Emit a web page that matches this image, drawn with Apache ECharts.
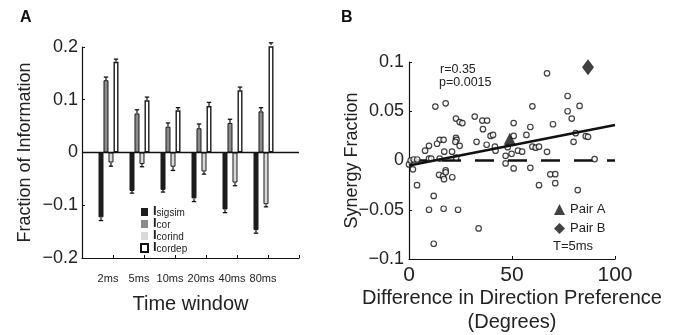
<!DOCTYPE html>
<html><head><meta charset="utf-8">
<script src="https://cdn.jsdelivr.net/npm/echarts@6/dist/echarts.min.js"></script>
<style>html,body{margin:0;padding:0;background:#fff}#c{width:676px;height:335px}</style>
</head><body><div id="c"></div>
<script>
// ---------- Panel A data ----------
const timeLabels = ['2ms', '5ms', '10ms', '20ms', '40ms', '80ms'];
const sigsim    = [-0.123, -0.073, -0.071, -0.087, -0.108, -0.147];
const cor       = [0.137, 0.074, 0.049, 0.046, 0.056, 0.078];
const corind    = [-0.019, -0.022, -0.027, -0.036, -0.057, -0.098];
const cordep    = [0.172, 0.099, 0.080, 0.088, 0.118, 0.204];
const sigsimErr = [0.006, 0.004, 0.004, 0.006, 0.006, 0.006];
const corErr    = [0.006, 0.007, 0.007, 0.008, 0.007, 0.007];
const corindErr = [0.007, 0.005, 0.007, 0.005, 0.006, 0.005];
const cordepErr = [0.005, 0.006, 0.005, 0.007, 0.006, 0.004];
const yTicksA   = ['\u22120.2', '\u22120.1', '0', '0.1', '0.2'];
const legendSubs = {sigsim: 'sigsim', cor: 'cor', corind: 'corind', cordep: 'cordep'};

// ---------- Panel B data ----------
const diffDeg = [0, 0.8, 1.9, 2.3, 4, 3.9,
  12.8, 17.8, 22.8, 24.6, 25.9, 31.9, 35.6, 37.9, 32.8, 35.9, 39.6, 40.8, 37.7, 41.7, 42,
  22.8, 23.1, 22.5, 24.6, 14.9, 16.8, 13.6, 9.7, 7.8, 17.1, 20.9, 9.7, 10.8, 14.9, 22.9,
  14.6, 16.5, 17.8, 17.8, 17, 21, 12, 9.7, 16.8, 23.8, 12, 33.8,
  46.9, 46.9, 47.9, 49.8, 50.8, 50.8, 50.8, 52.9, 54.9, 57, 58.9, 58.9, 59.9, 59.9, 61.5, 63.1, 63.1,
  67, 67, 69.9, 68.6, 71, 71, 77, 77, 79, 79.9, 80.9, 82.8, 81.9, 85.8, 86.9, 90.1];
const synergy = [-0.004, 0.0, -0.009, 0.001, 0.001, -0.025,
  0.0547, 0.058, 0.0426, 0.039, 0.038, 0.0446, 0.0405, 0.0405, 0.019, 0.0318, 0.025, 0.026, 0.016, 0.014, 0.010,
  0.023, 0.021, 0.019, 0.0149, 0.021, 0.021, 0.017, 0.0149, 0.010, 0.009, 0.009, 0.002, 0.002, 0.002, 0.003,
  -0.0145, -0.016, -0.010, -0.012, -0.019, -0.017, -0.036, -0.050, -0.049, -0.050, -0.0845, -0.069,
  0.0047, -0.003, 0.0135, 0.0068, 0.025, 0.038, -0.008, 0.010, 0.009, 0.026, 0.034, -0.0074, 0.055, 0.014, 0.013, 0.014, -0.025,
  0.0088, 0.0885, 0.0368, -0.014, -0.0139, -0.023, 0.0655, 0.050, 0.0426, 0.019, 0.0277, 0.0554, -0.030, 0.0247, 0.024, 0.0014];
const pairA = [48.9, 0.022];
const pairB = [86.9, 0.0946];
const fitX = [0, 100];
const fitY = [-0.005, 0.036];
const zeroX = [0, 100];
const zeroY = [0, 0];
const xTicksB = ['0', '50', '100'];
const yTicksB = ['\u22120.1', '\u22120.05', '0', '0.05', '0.1'];

// ---------- layout constants ----------
const FONT = '"Liberation Sans", Arial, Helvetica, sans-serif';
const barOffsets = {sigsim: -0.387, cor: -0.226, corind: -0.065, cordep: 0.097};
const barColors = {sigsim: '#1c1c1c', cor: '#8c8c8c', corind: '#d9d9d9', cordep: '#ffffff'};

function barSeries(name, vals) {
  return {
    type: 'bar', name: name, xAxisIndex: 0, yAxisIndex: 0,
    barWidth: 5, barGap: '-100%',
    data: vals.map((v, i) => [i + 1 + barOffsets[name], v]),
    itemStyle: {color: barColors[name], borderColor: '#1a1a1a', borderWidth: name === 'cordep' ? 1.4 : 1},
    emphasis: {disabled: true}, z: 2
  };
}
function errSeries(name, vals, errs) {
  return {
    type: 'custom', xAxisIndex: 0, yAxisIndex: 0, z: 3, silent: true,
    data: vals.map((v, i) => [i + 1 + barOffsets[name], v, errs[i]]),
    renderItem: function (params, api) {
      const x = api.value(0), y = api.value(1), e = api.value(2);
      const p0 = api.coord([x, y]);
      const p1 = api.coord([x, y + (y >= 0 ? e : -e)]);
      return {type: 'group', children: [
        {type: 'line', shape: {x1: p0[0], y1: p0[1], x2: p1[0], y2: p1[1]}, style: {stroke: '#111', lineWidth: 1.2}},
        {type: 'line', shape: {x1: p1[0] - 2.2, y1: p1[1], x2: p1[0] + 2.2, y2: p1[1]}, style: {stroke: '#111', lineWidth: 1.3}}
      ]};
    }
  };
}

const chart = echarts.init(document.getElementById('c'), null, {renderer: 'canvas'});
const axisLineStyle = {color: '#111', width: 1.2};
const option = {
  animation: false,
  backgroundColor: '#fff',
  textStyle: {fontFamily: FONT},
  grid: [
    {left: 82, top: 47, width: 217, height: 211, containLabel: false, outerBoundsMode: 'none'},
    {left: 409, top: 62, width: 206, height: 197, containLabel: false, outerBoundsMode: 'none'}
  ],
  xAxis: [
    {type: 'value', gridIndex: 0, min: 0, max: 7, interval: 1,
      axisLine: {show: true, onZero: false, lineStyle: axisLineStyle},
      axisTick: {show: true, inside: true, length: 3, lineStyle: {color: '#111'}},
      splitLine: {show: false},
      axisLabel: {fontFamily: FONT, fontSize: 11, color: '#222', margin: 15, padding: [0, 10, 0, 0],
        formatter: v => (v >= 1 && v <= 6) ? timeLabels[Math.round(v) - 1] : ''},
      name: 'Time window', nameLocation: 'middle', nameGap: 36, nameMoveOverlap: false,
      nameTextStyle: {fontFamily: FONT, fontSize: 20, color: '#222'}},
    {type: 'value', gridIndex: 1, min: 0, max: 100, interval: 50,
      axisLine: {show: true, onZero: false, lineStyle: axisLineStyle},
      axisTick: {show: true, inside: true, length: 3, lineStyle: {color: '#111'}},
      splitLine: {show: false},
      axisLabel: {fontFamily: FONT, fontSize: 21, color: '#222', margin: 6,
        formatter: v => xTicksB[Math.round(v / 50)]},
      name: 'Difference in Direction Preference\n(Degrees)', nameLocation: 'middle', nameGap: 27, nameMoveOverlap: false,
      nameTextStyle: {fontFamily: FONT, fontSize: 20, color: '#222', lineHeight: 24, verticalAlign: 'top'}}
  ],
  yAxis: [
    {type: 'value', gridIndex: 0, min: -0.2, max: 0.2, interval: 0.1,
      axisLine: {show: true, onZero: false, lineStyle: axisLineStyle},
      axisTick: {show: true, inside: true, length: 3, lineStyle: {color: '#111'}},
      splitLine: {show: false},
      axisLabel: {fontFamily: FONT, fontSize: 18, color: '#222', margin: 4,
        formatter: v => yTicksA[Math.round((v + 0.2) / 0.1)]},
      name: 'Fraction of Information', nameLocation: 'middle', nameGap: 48, nameMoveOverlap: false,
      nameTextStyle: {fontFamily: FONT, fontSize: 18, color: '#222'}},
    {type: 'value', gridIndex: 1, min: -0.1, max: 0.1, interval: 0.05,
      axisLine: {show: true, onZero: false, lineStyle: axisLineStyle},
      axisTick: {show: true, inside: true, length: 3, lineStyle: {color: '#111'}},
      splitLine: {show: false},
      axisLabel: {fontFamily: FONT, fontSize: 18, color: '#222', margin: 5,
        formatter: v => yTicksB[Math.round((v + 0.1) / 0.05)]},
      name: 'Synergy Fraction', nameLocation: 'middle', nameGap: 48, nameMoveOverlap: false,
      nameTextStyle: {fontFamily: FONT, fontSize: 18, color: '#222'}}
  ],
  legend: [
    {orient: 'vertical', left: 135, top: 198, itemWidth: 7, itemHeight: 8, itemGap: -3,
      selectedMode: false, icon: 'rect',
      data: [
        {name: 'sigsim', itemStyle: {color: barColors.sigsim, borderWidth: 0}},
        {name: 'cor', itemStyle: {color: barColors.cor, borderWidth: 0}},
        {name: 'corind', itemStyle: {color: barColors.corind, borderWidth: 0}},
        {name: 'cordep', itemStyle: {color: '#fff', borderColor: '#111', borderWidth: 2}}
      ],
      formatter: n => '{I|I}{s|' + legendSubs[n] + '}',
      textStyle: {fontFamily: FONT, color: '#222', rich: {
        I: {fontFamily: FONT, fontSize: 13, fontWeight: 'bold', lineHeight: 12, color: '#222', verticalAlign: 'bottom'},
        s: {fontFamily: FONT, fontSize: 10, lineHeight: 12, color: '#222', padding: [5, 0, 0, 0], verticalAlign: 'bottom'}
      }}},
    {orient: 'vertical', left: 549, top: 198, itemWidth: 11, itemHeight: 11, itemGap: 6,
      selectedMode: false,
      data: [{name: 'Pair A', icon: 'triangle'}, {name: 'Pair B', icon: 'diamond'}],
      textStyle: {fontFamily: FONT, fontSize: 13, color: '#222'}}
  ],
  graphic: [
    {type: 'text', left: 20, top: 10, style: {text: 'A', font: 'bold 16px ' + FONT, fill: '#111'}},
    {type: 'text', left: 341, top: 10, style: {text: 'B', font: 'bold 16px ' + FONT, fill: '#111'}},
    {type: 'text', left: 440, top: 63, style: {text: 'r=0.35', font: '12.5px ' + FONT, fill: '#222'}},
    {type: 'text', left: 439, top: 76, style: {text: 'p=0.0015', font: '12.5px ' + FONT, fill: '#222'}},
    {type: 'text', left: 553, top: 240, style: {text: 'T=5ms', font: '13px ' + FONT, fill: '#222'}}
  ],
  series: [
    Object.assign(barSeries('sigsim', sigsim), {
      markLine: {silent: true, symbol: 'none', label: {show: false},
        lineStyle: {type: 'solid', color: '#111', width: 1.4}, data: [{yAxis: 0}]}
    }),
    barSeries('cor', cor),
    barSeries('corind', corind),
    barSeries('cordep', cordep),
    errSeries('sigsim', sigsim, sigsimErr),
    errSeries('cor', cor, corErr),
    errSeries('corind', corind, corindErr),
    errSeries('cordep', cordep, cordepErr),
    {type: 'line', xAxisIndex: 1, yAxisIndex: 1, data: zeroX.map((x, i) => [x, zeroY[i]]),
      symbol: 'none', silent: true, lineStyle: {color: '#111', width: 2.5, type: [19, 14]}, z: 2},
    {type: 'scatter', xAxisIndex: 1, yAxisIndex: 1, data: diffDeg.map((x, i) => [x, synergy[i]]),
      symbol: 'circle', symbolSize: 5.5, silent: true,
      itemStyle: {color: '#fff', borderColor: '#111', borderWidth: 1.2}, z: 3},
    {type: 'line', xAxisIndex: 1, yAxisIndex: 1, data: fitX.map((x, i) => [x, fitY[i]]),
      symbol: 'none', silent: true, lineStyle: {color: '#111', width: 2.6}, z: 4},
    {type: 'scatter', name: 'Pair A', xAxisIndex: 1, yAxisIndex: 1, data: [pairA],
      symbol: 'triangle', symbolSize: 12, silent: true, itemStyle: {color: '#111'}, z: 5},
    {type: 'scatter', name: 'Pair B', xAxisIndex: 1, yAxisIndex: 1, data: [pairB],
      symbol: 'diamond', symbolSize: [12, 16], silent: true, itemStyle: {color: '#111'}, z: 5}
  ]
};
chart.setOption(option);
</script>
</body></html>
